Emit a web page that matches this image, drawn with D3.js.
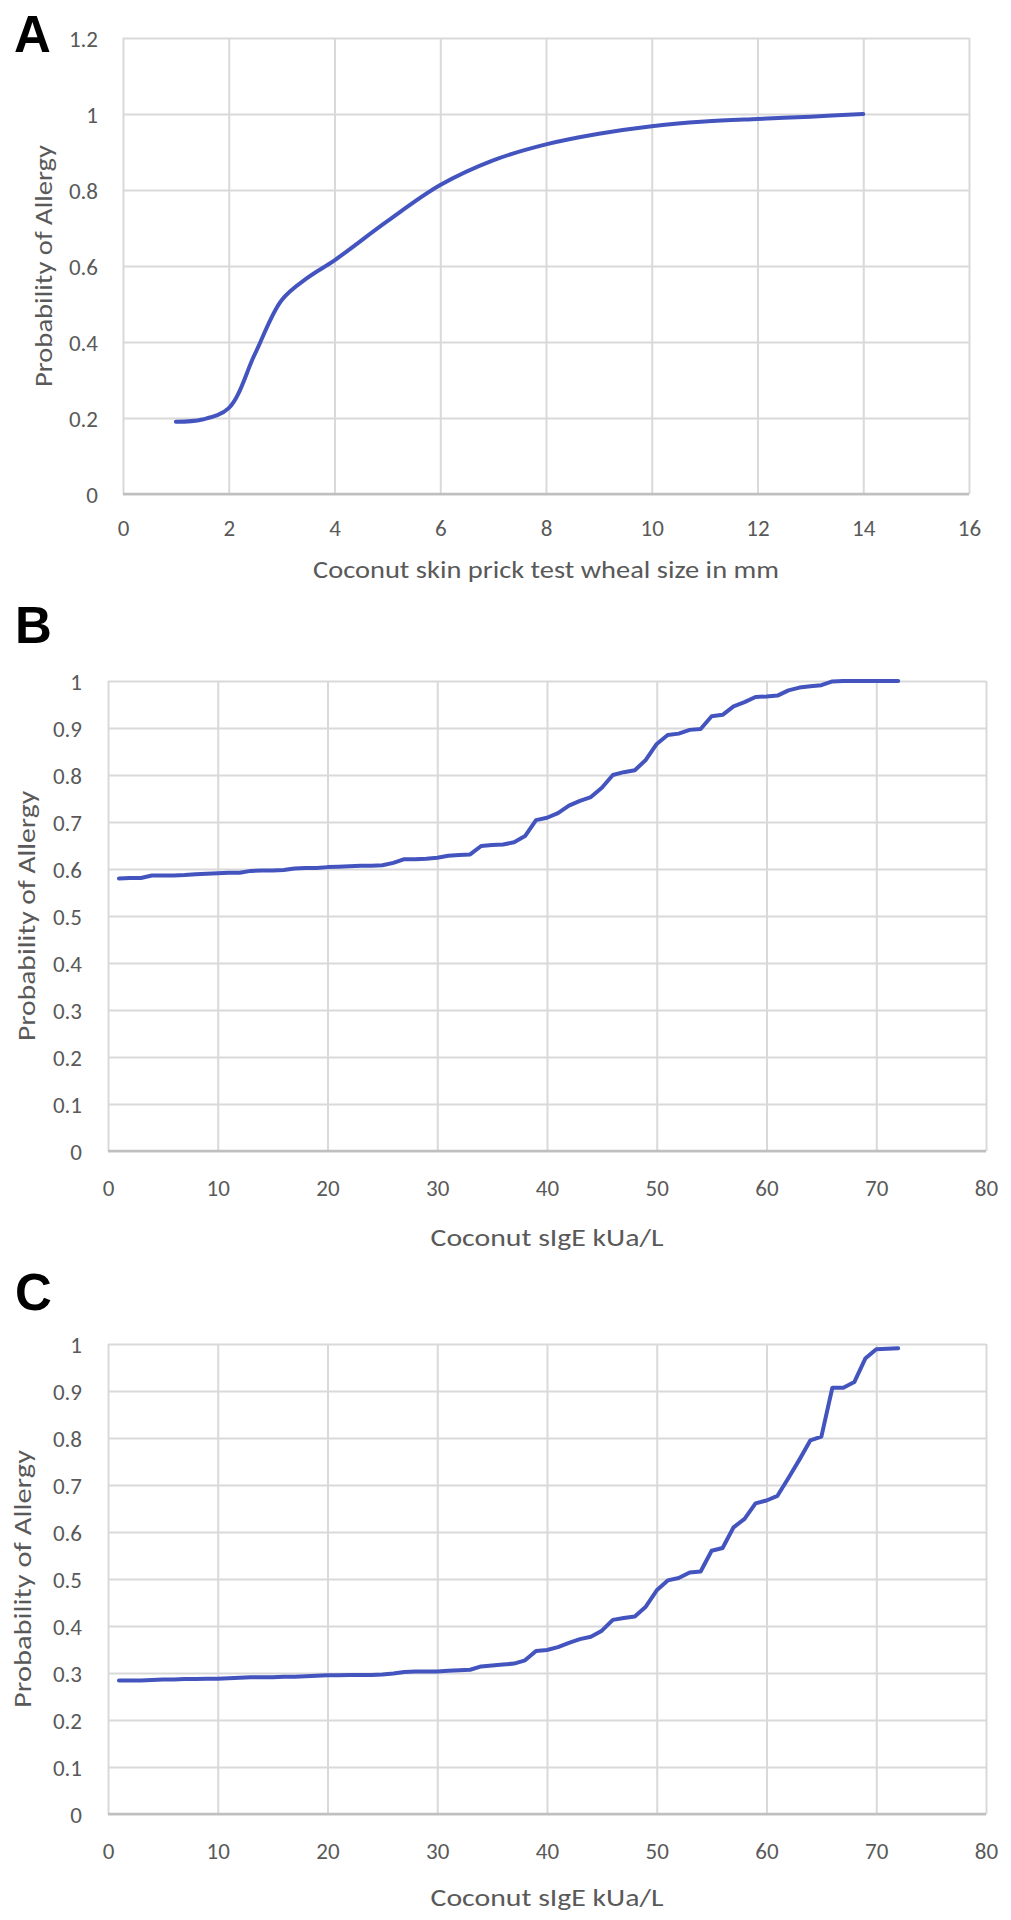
<!DOCTYPE html>
<html>
<head>
<meta charset="utf-8">
<script src="https://cdn.jsdelivr.net/npm/d3@7"></script>
<style>
  html, body { margin: 0; padding: 0; background: #ffffff; }
  svg { display: block; }
  .tick text { font-family: Carlito, Calibri, Lato, "Open Sans", sans-serif; fill: #595959; font-size: 23px; }
  .title { font-family: Carlito, Calibri, Lato, "Open Sans", sans-serif; fill: #595959; font-size: 24px; }
  .panel { font-family: "Liberation Sans", Arial, sans-serif; font-weight: bold; font-size: 51px; fill: #000; }
</style>
</head>
<body>
<svg id="chart" width="1011" height="1920"></svg>
<script>
// ---------- Panel A data ----------
const aWheal = [1, 1.5, 2, 2.5, 3, 3.5, 4, 5, 6, 7, 8, 9, 10, 11, 12, 13, 14];
const aProb  = [0.19, 0.196, 0.226, 0.37, 0.51, 0.57, 0.615, 0.718, 0.813, 0.878, 0.92, 0.948, 0.968, 0.98, 0.987, 0.993, 1.0];
const aXTicks = [0, 2, 4, 6, 8, 10, 12, 14, 16];
const aYTicks = [0, 0.2, 0.4, 0.6, 0.8, 1, 1.2];
const aYTickLabels = ["0", "0.2", "0.4", "0.6", "0.8", "1", "1.2"];

// ---------- Panel B / C data ----------
const sIgE = [1,2,3,4,5,6,7,8,9,10,11,12,13,14,15,16,17,18,19,20,21,22,23,24,25,26,27,28,29,30,31,32,33,34,35,36,
              37,38,39,40,41,42,43,44,45,46,47,48,49,50,51,52,53,54,55,56,57,58,59,60,61,62,63,64,65,66,67,68,69,70,71,72];
const bProb = [0.580,0.581,0.581,0.586,0.586,0.586,0.587,0.589,0.590,0.591,0.592,0.592,0.596,0.597,0.597,0.598,0.601,0.602,0.602,0.604,
               0.605,0.606,0.607,0.607,0.608,0.613,0.621,0.621,0.622,0.624,0.628,0.630,0.631,0.649,0.651,0.652,0.657,0.670,0.704,0.709,
               0.719,0.735,0.745,0.753,0.773,0.800,0.806,0.810,0.832,0.866,0.885,0.888,0.896,0.898,0.925,0.928,0.946,0.955,0.966,0.967,
               0.969,0.980,0.986,0.989,0.991,0.999,1.0,1.0,1.0,1.0,1.0,1.0];
const cProb = [0.284,0.284,0.284,0.285,0.286,0.286,0.287,0.287,0.288,0.288,0.289,0.290,0.291,0.291,0.291,0.292,0.292,0.293,0.294,0.295,
               0.295,0.296,0.296,0.296,0.297,0.299,0.302,0.303,0.303,0.303,0.305,0.306,0.307,0.314,0.316,0.318,0.320,0.327,0.347,0.349,
               0.355,0.364,0.372,0.377,0.390,0.413,0.417,0.420,0.441,0.476,0.497,0.502,0.514,0.516,0.560,0.566,0.610,0.628,0.661,0.667,
               0.677,0.715,0.754,0.795,0.803,0.907,0.907,0.919,0.969,0.989,0.990,0.991];
const bcXTicks = [0, 10, 20, 30, 40, 50, 60, 70, 80];
const bcYTicks = [0, 0.1, 0.2, 0.3, 0.4, 0.5, 0.6, 0.7, 0.8, 0.9, 1];
const bcYTickLabels = ["0", "0.1", "0.2", "0.3", "0.4", "0.5", "0.6", "0.7", "0.8", "0.9", "1"];

const yTitle = "Probability of Allergy";
const aXTitle = "Coconut skin prick test wheal size in mm";
const bcXTitle = "Coconut sIgE kUa/L";

const svg = d3.select("#chart");
svg.append("rect").attr("width", 1011).attr("height", 1920).attr("fill", "#fff");

function panel(opt) {
  const g = svg.append("g");
  const x = d3.scaleLinear().domain(opt.xDomain).range([opt.left, opt.right]);
  const y = d3.scaleLinear().domain(opt.yDomain).range([opt.bottom, opt.top]);
  const w = opt.right - opt.left, h = opt.bottom - opt.top;

  // horizontal grid + y labels
  const ya = g.append("g").attr("transform", `translate(${opt.left},0)`)
    .call(d3.axisLeft(y).tickValues(opt.yTicks)
      .tickFormat((d, i) => opt.yLabels[i]).tickSize(-w).tickPadding(opt.yPad));
  ya.select(".domain").remove();
  ya.selectAll(".tick line").attr("stroke", "#d9d9d9").attr("stroke-width", 2);
  ya.selectAll(".tick text").attr("dy", "0.35em");

  // vertical grid + x labels
  const xa = g.append("g").attr("transform", `translate(0,${opt.bottom})`)
    .call(d3.axisBottom(x).tickValues(opt.xTicks).tickFormat(d => String(d)).tickSize(-h));
  xa.select(".domain").remove();
  xa.selectAll(".tick line").attr("stroke", "#d9d9d9").attr("stroke-width", 2);
  xa.selectAll(".tick text").attr("y", opt.xLabOff).attr("dy", "0.35em");

  // bottom axis line
  g.append("line").attr("x1", opt.left).attr("x2", opt.right)
    .attr("y1", opt.bottom).attr("y2", opt.bottom)
    .attr("stroke", "#bfbfbf").attr("stroke-width", 2.5);

  // data line
  const pts = opt.xs.map((v, i) => [v, opt.ys[i]]);
  g.append("path").datum(pts)
    .attr("fill", "none").attr("stroke", "#4454bf").attr("stroke-width", 4)
    .attr("stroke-linejoin", "round").attr("stroke-linecap", "round")
    .attr("d", d3.line().x(d => x(d[0])).y(d => y(d[1])).curve(opt.curve));

  // axis titles
  g.append("text").attr("class", "title")
    .attr("x", (opt.left + opt.right) / 2).attr("y", opt.bottom + opt.xTitleOff)
    .attr("text-anchor", "middle").attr("dy", "0.35em")
    .attr("textLength", opt.xTitleLen).attr("lengthAdjust", "spacingAndGlyphs")
    .text(opt.xTitle);
  g.append("text").attr("class", "title")
    .attr("transform", `translate(${opt.yTitleX},${(opt.top + opt.bottom) / 2}) rotate(-90)`)
    .attr("text-anchor", "middle").attr("dy", "0.35em")
    .attr("textLength", opt.yTitleLen).attr("lengthAdjust", "spacingAndGlyphs")
    .text(yTitle);

  // panel letter
  g.append("text").attr("class", "panel").attr("x", opt.letterX).attr("y", opt.letterY).text(opt.letter);
}

panel({
  letter: "A", letterX: 14, letterY: 52,
  left: 123, right: 969, top: 38, bottom: 494,
  xDomain: [0, 16], yDomain: [0, 1.2],
  xTicks: aXTicks, yTicks: aYTicks, yLabels: aYTickLabels, yPad: 25,
  xs: aWheal, ys: aProb, curve: d3.curveCatmullRom.alpha(0.5),
  xLabOff: 34, xTitleOff: 76, xTitle: aXTitle, xTitleLen: 466,
  yTitleX: 44, yTitleLen: 242
});

panel({
  letter: "B", letterX: 15, letterY: 643,
  left: 108, right: 986, top: 681, bottom: 1151,
  xDomain: [0, 80], yDomain: [0, 1],
  xTicks: bcXTicks, yTicks: bcYTicks, yLabels: bcYTickLabels, yPad: 26,
  xs: sIgE, ys: bProb, curve: d3.curveLinear,
  xLabOff: 37, xTitleOff: 87, xTitle: bcXTitle, xTitleLen: 233,
  yTitleX: 27, yTitleLen: 250
});

panel({
  letter: "C", letterX: 15, letterY: 1310,
  left: 108, right: 986, top: 1344, bottom: 1814,
  xDomain: [0, 80], yDomain: [0, 1],
  xTicks: bcXTicks, yTicks: bcYTicks, yLabels: bcYTickLabels, yPad: 26,
  xs: sIgE, ys: cProb, curve: d3.curveLinear,
  xLabOff: 37, xTitleOff: 84, xTitle: bcXTitle, xTitleLen: 233,
  yTitleX: 23, yTitleLen: 258
});
</script>
</body>
</html>
